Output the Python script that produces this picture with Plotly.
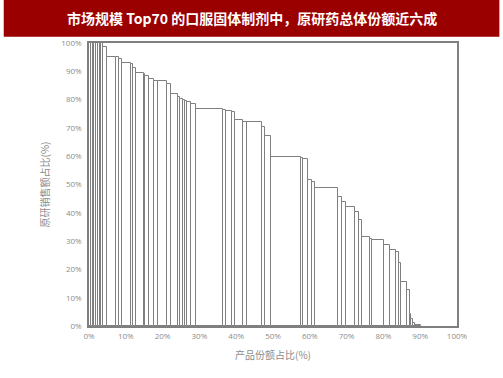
import plotly.graph_objects as go
import numpy as np

# Product share (%) of each drug (bar widths), in sorted order
product_share = [0.54, 0.49, 0.46, 0.46, 0.54, 0.44, 0.46, 0.54, 1.08, 2.44,
                 0.63, 0.92, 2.52, 0.46, 0.81, 2.06, 0.27, 1.09, 1.35, 1.19,
                 2.44, 1.17, 1.81, 0.63, 0.62, 0.73, 0.46, 1.17, 1.35, 7.40,
                 0.65, 1.63, 0.89, 2.25, 0.92, 4.23, 0.73, 1.63, 8.05, 0.70,
                 1.19, 1.17, 0.81, 6.15, 1.17, 1.08, 2.58, 1.03, 0.86, 2.04,
                 0.73, 3.06, 1.63, 1.76, 0.68, 0.73, 1.52, 0.73, 0.49, 0.40,
                 0.46, 0.82, 1.00]
# Originator sales share (%) of each drug (bar heights)
originator_share = [100, 100, 100, 100, 100, 100, 100, 100, 98.5, 95.0,
                    94.9, 94.4, 93.0, 92.6, 91.0, 89.4, 88.9, 88.2, 87.3, 86.6,
                    86.5, 85.6, 82.1, 80.8, 80.3, 79.8, 79.6, 79.0, 78.3, 76.7,
                    76.3, 76.1, 75.6, 72.7, 72.2, 72.0, 70.3, 67.0, 59.7, 59.3,
                    59.1, 51.5, 50.9, 48.8, 45.5, 43.9, 42.1, 40.3, 37.6, 31.5,
                    30.8, 30.5, 28.8, 27.0, 26.2, 22.4, 15.7, 12.6, 4.1, 2.6,
                    1.2, 0.3, 0.2]

tick_vals = [0, 10, 20, 30, 40, 50, 60, 70, 80, 90, 100]
tick_text = [f"{v}%" for v in tick_vals]

title_text = "市场规模 Top70 的口服固体制剂中，原研药总体份额近六成"
x_title = "产品份额占比(%)"
y_title = "原研销售额占比(%)"

lefts = np.concatenate([[0], np.cumsum(product_share)[:-1]])

fig = go.Figure()
fig.add_trace(go.Bar(
    x=lefts, y=originator_share, width=product_share, offset=0,
    marker=dict(color="white", line=dict(color="#7f7f7f", width=1)),
    hoverinfo="skip", showlegend=False,
))

W, H = 503, 378
L, R, T, B = 88.5, 45.5, 43.3, 51.5
PW, PH = W - L - R, H - T - B

def px(x):
    return (x - L) / PW

def py(y):
    return (H - B - y) / PH

fig.update_layout(
    width=W, height=H,
    margin=dict(l=L, r=R, t=T, b=B),
    paper_bgcolor="white", plot_bgcolor="white",
    bargap=0,
    xaxis=dict(range=[0, 100], tickvals=tick_vals, ticktext=tick_text,
               showgrid=False, zeroline=False, showline=True, mirror=True,
               linecolor="#7f7f7f", linewidth=1.5, ticks="outside",
               ticklen=2, tickcolor="white",
               tickfont=dict(size=8, color="#8c8c8c", family="Open Sans"),
               title=dict(text=x_title, font=dict(size=10, color="#8c8c8c",
                                                   family="Noto Sans CJK SC"),
                          standoff=12)),
    yaxis=dict(range=[0, 100], tickvals=tick_vals, ticktext=tick_text,
               showgrid=False, zeroline=False, showline=True, mirror=True,
               linecolor="#7f7f7f", linewidth=1.5, ticks="outside",
               ticklen=4, tickcolor="white",
               tickfont=dict(size=8, color="#8c8c8c", family="Open Sans"),
               title=dict(text=y_title, font=dict(size=10, color="#8c8c8c",
                                                   family="Noto Sans CJK SC"),
                          standoff=10)),
    shapes=[
        dict(type="rect", xref="paper", yref="paper",
             x0=px(3), x1=px(500), y0=py(37), y1=py(0),
             fillcolor="#9b0000", line=dict(width=0), layer="below"),
    ],
    annotations=[
        dict(text=f"<b>{title_text}</b>", xref="paper", yref="paper",
             x=px(252), y=py(18.5), xanchor="center", yanchor="middle",
             showarrow=False, font=dict(size=14, color="white", family="Noto Sans CJK SC")),
    ],
)

fig.write_html("out.html", config={"displayModeBar": False},
               post_script="document.body.style.margin='0';document.body.style.padding='0';")
